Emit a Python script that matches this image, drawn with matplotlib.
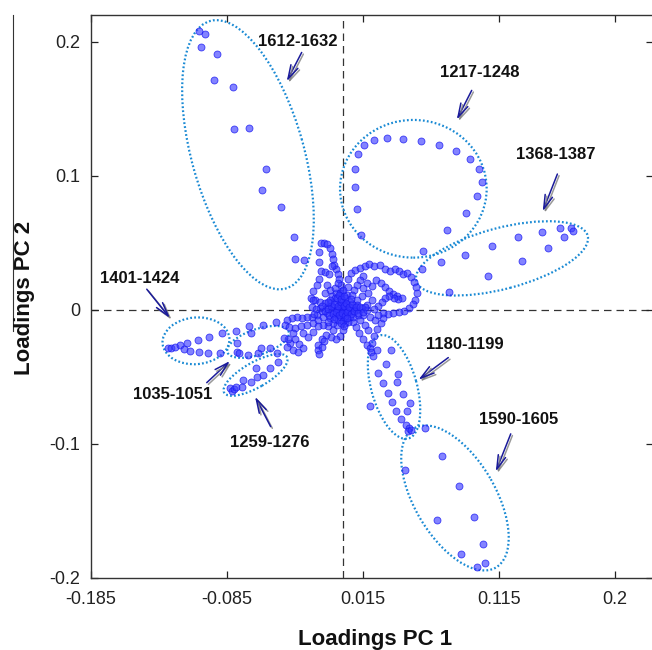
import matplotlib
matplotlib.use("Agg")
import matplotlib.pyplot as plt
from matplotlib.patches import Ellipse
from matplotlib.lines import Line2D
import matplotlib.patheffects as pe

# ---------------- data (PC1, PC2 loadings) ----------------
pc1_1612 = [-0.1056, -0.1012, -0.1039, -0.0921, -0.0948, -0.0808, -0.0796, -0.0686,
            -0.0561, -0.0593, -0.0453, -0.0357, -0.0348, -0.0284]
pc2_1612 = [0.2082, 0.2057, 0.1960, 0.1910, 0.1714, 0.1662, 0.1351, 0.1358,
            0.1050, 0.0896, 0.0766, 0.0540, 0.0378, 0.0371]

pc1_1217 = [0.0157, 0.0231, 0.0324, 0.0444, 0.0574, 0.0709, 0.0832, 0.0939, 0.1001, 0.1023,
            0.0990, 0.0905, 0.0770, 0.0591, 0.0138, 0.0106, 0.0089, 0.0089, 0.0111]
pc2_1217 = [0.1229, 0.1266, 0.1284, 0.1278, 0.1261, 0.1229, 0.1187, 0.1127, 0.1052, 0.0957,
            0.0851, 0.0726, 0.0592, 0.0438, 0.0557, 0.0749, 0.0918, 0.1052, 0.1162]

pc1_1368 = [0.0726, 0.0582, 0.0785, 0.0900, 0.1069, 0.1096, 0.1288, 0.1319, 0.1464,
            0.1508, 0.1599, 0.1630, 0.1679, 0.1696]
pc2_1368 = [0.0356, 0.0306, 0.0134, 0.0410, 0.0254, 0.0478, 0.0540, 0.0366, 0.0584,
            0.0463, 0.0614, 0.0540, 0.0614, 0.0590]

pc1_1401 = [-0.1284, -0.1260, -0.1232, -0.1199, -0.1168, -0.1144, -0.1120, -0.1065,
            -0.1058, -0.0982, -0.0993, -0.0901, -0.0887]
pc2_1401 = [-0.0284, -0.0286, -0.0276, -0.0259, -0.0293, -0.0244, -0.0307, -0.0224,
            -0.0316, -0.0199, -0.0321, -0.0323, -0.0174]

pc1_1035 = [-0.0786, -0.0688, -0.0676, -0.0583, -0.0492, -0.0779, -0.0774, -0.0760,
            -0.0693, -0.0620, -0.0602, -0.0534, -0.0485]
pc2_1035 = [-0.0154, -0.0124, -0.0174, -0.0112, -0.0092, -0.0249, -0.0311, -0.0323,
            -0.0336, -0.0323, -0.0286, -0.0281, -0.0319]

pc1_1259 = [-0.0828, -0.0815, -0.0796, -0.0784, -0.0742, -0.0735, -0.0676, -0.0639,
            -0.0627, -0.0583, -0.0534, -0.0473]
pc2_1259 = [-0.0584, -0.0602, -0.0592, -0.0577, -0.0577, -0.0522, -0.0535, -0.0435,
            -0.0498, -0.0485, -0.0435, -0.0386]

pc1_1180 = [0.0209, 0.0250, 0.0356, 0.0226, 0.0319, 0.0263, 0.0405, 0.0398, 0.0295, 0.0331,
            0.0442, 0.0361, 0.0201, 0.0496, 0.0393, 0.0476, 0.0429, 0.0466, 0.0490, 0.0483,
            0.0500, 0.0606]
pc2_1180 = [-0.0311, -0.0299, -0.0299, -0.0341, -0.0405, -0.0473, -0.0480, -0.0535, -0.0547,
            -0.0622, -0.0629, -0.0684, -0.0714, -0.0692, -0.0754, -0.0754, -0.0816, -0.0858,
            -0.0878, -0.0903, -0.0896, -0.0878]

pc1_1590 = [0.0734, 0.0459, 0.0856, 0.0692, 0.0964, 0.1032, 0.0871, 0.1045, 0.0991]
pc2_1590 = [-0.1090, -0.1194, -0.1313, -0.1567, -0.1542, -0.1744, -0.1818, -0.1886, -0.1918]

pc1_core = [
    -0.0162, -0.0137, -0.0113, -0.0093, -0.0081, -0.0074, -0.0064, -0.0049, -0.0037, -0.0025, -0.0015, -0.0007,
    -0.0176, -0.0172, -0.0162, -0.0176, -0.0191, -0.0216, -0.0235, -0.0203, -0.0167,
    -0.0127, -0.0103, -0.0076, -0.0113, -0.0093, -0.0130, -0.0081, -0.0049,
    0.0029, 0.0037, 0.0042, 0.0059, 0.0091, 0.0127, 0.0164, 0.0196, 0.0230, 0.0275, 0.0311, 0.0348,
    0.0382, 0.0414, 0.0446, 0.0475, 0.0502, 0.0525, 0.0539, 0.0544, 0.0534, 0.0515, 0.0485, 0.0451,
    0.0412, 0.0373, 0.0333, 0.0299,
    0.0152, 0.0181, 0.0213, 0.0245, 0.0279, 0.0311, 0.0343, 0.0373, 0.0402, 0.0434, 0.0409, 0.0377,
    0.0343, 0.0311, 0.0287, 0.0262, 0.0230, 0.0127, 0.0103, 0.0083, 0.0066, 0.0152, 0.0189, 0.0140,
    0.0103, 0.0213, 0.0176,
    0.0054, 0.0074, 0.0098, 0.0123, 0.0152, 0.0181, 0.0201, 0.0213, 0.0230, 0.0255, 0.0279, 0.0294,
    0.0189, 0.0164, 0.0127, 0.0152, 0.0201, 0.0238, 0.0262,
    0.0017, 0.0000, -0.0020, -0.0049, -0.0088, -0.0123, -0.0154, -0.0179, -0.0184, -0.0172, -0.0154,
    -0.0137, -0.0069, -0.0105, -0.0039,
    -0.0191, -0.0228, -0.0265, -0.0301, -0.0338, -0.0375, -0.0412, -0.0424, -0.0392, -0.0350, -0.0309,
    -0.0265, -0.0216, -0.0179, -0.0368, -0.0350, -0.0319, -0.0289, -0.0252, -0.0216, -0.0289, -0.0387,
    -0.0363, -0.0326, -0.0400, -0.0429, -0.0411, -0.0228, -0.0216,
    -0.0118, -0.0093, -0.0069, -0.0044, -0.0020, 0.0005, 0.0029, 0.0054, 0.0078, 0.0103, 0.0066, 0.0029,
    -0.0007, -0.0044, -0.0081, -0.0118, -0.0154, -0.0142, -0.0093, -0.0056, -0.0020, 0.0017, 0.0054,
    -0.0032, 0.0005, 0.0017, -0.0020, -0.0056, -0.0093, -0.0130, -0.0167, 0.0103, 0.0140, 0.0176,
    0.0115, 0.0078, 0.0042, -0.0069, -0.0032, -0.0105, -0.0142, -0.0179, -0.0020, 0.0005, -0.0056,
    -0.0032,
    0.0000, -0.0010, 0.0010, -0.0020, 0.0020, 0.0000, 0.0000, -0.0040, 0.0040,
    -0.0150, -0.0130, -0.0110, -0.0100, -0.0085, -0.0070, -0.0060, -0.0050, -0.0035, -0.0025, -0.0015,
    -0.0005, 0.0008, 0.0015, 0.0025, 0.0035, 0.0045, 0.0060, 0.0070, 0.0085, 0.0095, 0.0110, 0.0125,
    -0.0045, -0.0030, -0.0010, 0.0010, 0.0000, -0.0015, 0.0010, -0.0060, 0.0035, -0.0110, 0.0065,
    -0.0195, -0.0210, 0.0150, 0.0165]
pc2_core = [
    0.0498, 0.0502, 0.0488, 0.0458, 0.0418, 0.0378, 0.0338, 0.0303, 0.0269, 0.0229, 0.0187, 0.0144,
    0.0428, 0.0358, 0.0289, 0.0229, 0.0187, 0.0137, 0.0092, 0.0075, 0.0062,
    0.0279, 0.0269, 0.0328, 0.0187, 0.0149, 0.0124, 0.0100, 0.0124,
    0.0112, 0.0174, 0.0229, 0.0274, 0.0294, 0.0311, 0.0328, 0.0343, 0.0328, 0.0333, 0.0303, 0.0289,
    0.0308, 0.0289, 0.0269, 0.0274, 0.0244, 0.0209, 0.0169, 0.0124, 0.0075, 0.0040, 0.0015, -0.0005,
    -0.0015, -0.0025, -0.0030, -0.0020,
    0.0249, 0.0204, 0.0179, 0.0224, 0.0199, 0.0169, 0.0144, 0.0119, 0.0104, 0.0087, 0.0080, 0.0085,
    0.0100, 0.0087, 0.0062, 0.0030, 0.0010, 0.0224, 0.0187, 0.0149, 0.0112, 0.0162, 0.0124, 0.0100,
    0.0075, 0.0075, 0.0037,
    -0.0050, -0.0087, -0.0129, -0.0174, -0.0219, -0.0261, -0.0286, -0.0244, -0.0194, -0.0144, -0.0100, -0.0062,
    -0.0149, -0.0112, -0.0075, -0.0037, -0.0055, -0.0075, -0.0037,
    -0.0100, -0.0149, -0.0194, -0.0219, -0.0204, -0.0187, -0.0219, -0.0261, -0.0303, -0.0328, -0.0279,
    -0.0236, -0.0149, -0.0124, -0.0112,
    -0.0037, -0.0055, -0.0055, -0.0062, -0.0055, -0.0062, -0.0075, -0.0112, -0.0129, -0.0137, -0.0124,
    -0.0112, -0.0100, -0.0075, -0.0174, -0.0219, -0.0254, -0.0286, -0.0199, -0.0162, -0.0174, -0.0249,
    -0.0299, -0.0311, -0.0219, -0.0211, -0.0274, 0.0025, 0.0075,
    0.0025, 0.0050, 0.0025, 0.0062, 0.0037, 0.0062, 0.0037, 0.0062, 0.0025, 0.0000, -0.0012, -0.0025,
    -0.0012, -0.0025, -0.0012, -0.0025, -0.0012, -0.0050, -0.0062, -0.0055, -0.0055, -0.0062, 0.0000,
    0.0012, 0.0012, 0.0087, 0.0100, 0.0087, 0.0075, 0.0050, 0.0012, 0.0037, 0.0012, 0.0000,
    -0.0037, -0.0055, -0.0087, -0.0100, -0.0075, -0.0087, -0.0112, -0.0124, 0.0124, 0.0149, 0.0162,
    0.0199,
    0.0000, 0.0020, -0.0020, -0.0010, 0.0010, 0.0040, -0.0040, 0.0000, 0.0000,
    0.0030, -0.0010, 0.0010, -0.0040, 0.0030, -0.0030, 0.0045, -0.0015, 0.0030, -0.0035, 0.0055,
    -0.0020, 0.0030, -0.0045, 0.0050, -0.0015, 0.0025, -0.0030, 0.0040, -0.0010, 0.0020, -0.0020, 0.0025,
    0.0085, 0.0110, 0.0080, 0.0105, -0.0080, -0.0100, -0.0120, -0.0070, -0.0060, 0.0060, 0.0080,
    0.0010, -0.0030, -0.0015, 0.0020]

groups = [(pc1_core, pc2_core), (pc1_1612, pc2_1612), (pc1_1217, pc2_1217),
          (pc1_1368, pc2_1368), (pc1_1401, pc2_1401), (pc1_1035, pc2_1035),
          (pc1_1259, pc2_1259), (pc1_1180, pc2_1180), (pc1_1590, pc2_1590)]

x_ticks = [-0.185, -0.085, 0.015, 0.115, 0.2]
x_tick_labels = ["-0.185", "-0.085", "0.015", "0.115", "0.2"]
y_ticks = [-0.2, -0.1, 0, 0.1, 0.2]
y_tick_labels = ["-0.2", "-0.1", "0", "0.1", "0.2"]

# ---------------- annotation geometry ----------------
# (center x, center y, width, height, angle)
ellipse_specs = [
    (-0.0696, 0.1157, 0.2071, 0.0824, 105.5),
    (0.0520, 0.0903, 0.1078, 0.1027, 0),
    (0.1172, 0.0384, 0.1304, 0.0455, 15),
    (-0.1078, -0.0231, 0.0493, 0.0348, 5),
    (-0.0622, -0.0239, 0.0476, 0.0191, 19),
    (-0.0640, -0.0485, 0.0532, 0.0187, 30),
    (0.0378, -0.0575, 0.0797, 0.0336, 105.2),
    (0.0826, -0.1403, 0.1200, 0.0596, 119.9),
]
# (label, text position, arrow tail, arrow head)
label_specs = [
    ("1612-1632", (-0.0328, 0.2000), (-0.0301, 0.1920), (-0.0411, 0.1704)),
    ("1217-1248", (0.1010, 0.1771), (0.0949, 0.1637), (0.0839, 0.1418)),
    ("1368-1387", (0.1569, 0.1162), (0.1579, 0.1013), (0.1471, 0.0734)),
    ("1401-1424", (-0.1490, 0.0237), (-0.1440, 0.0154), (-0.1269, -0.0062)),
    ("1035-1051", (-0.1249, -0.0634), (-0.0999, -0.0543), (-0.0828, -0.0381)),
    ("1259-1276", (-0.0539, -0.0990), (-0.0529, -0.0871), (-0.0644, -0.0647)),
    ("1180-1199", (0.0895, -0.0261), (0.0777, -0.0356), (0.0557, -0.0522)),
    ("1590-1605", (0.1297, -0.0816), (0.1236, -0.0925), (0.1126, -0.1207)),
]

plt.rcParams["font.family"] = ["Liberation Sans", "DejaVu Sans"]

fig = plt.figure(figsize=(6.52, 6.50), dpi=100)
ax = fig.add_axes([91 / 652, 72 / 650, 562 / 652, 563.5 / 650])
ax.set_xlim(-0.185, 0.2282)
ax.set_ylim(-0.2, 0.2203)

ax.axhline(0, color="#333333", lw=0.9, ls=(0, (6, 4)), zorder=1)
ax.axvline(0, color="#333333", lw=0.9, ls=(0, (6, 4)), zorder=1)

for gx, gy in groups:
    ax.scatter(gx, gy, s=25, facecolor=(0.22, 0.22, 1.0, 0.62), edgecolor=(0.1, 0.1, 0.95, 0.8),
               linewidth=0.6, zorder=3)

for cx, cy, w, h, ang in ellipse_specs:
    ax.add_patch(Ellipse((cx, cy), w, h, angle=ang, fill=False, edgecolor="#1a8ad4",
                         lw=1.6, ls=(0, (0.8, 1.0)), zorder=2))

for lab, tpos, tail, head in label_specs:
    ax.text(tpos[0], tpos[1], lab, ha="center", va="center", fontsize=12, fontweight="bold",
            color="#111111", zorder=5)
    ax.annotate("", xy=head, xytext=tail,
                arrowprops=dict(arrowstyle="->,head_length=1.0,head_width=0.28", color="#1a1a9a",
                                lw=1.1, shrinkA=0, shrinkB=0,
                                path_effects=[pe.SimpleLineShadow(offset=(1.2, -1.2),
                                                                  shadow_color="gray", alpha=0.8),
                                              pe.Normal()]),
                zorder=5)

ax.set_xticks(x_ticks)
ax.set_xticklabels(x_tick_labels)
ax.set_yticks(y_ticks)
ax.set_yticklabels(y_tick_labels)
ax.tick_params(direction="in", length=5, width=0.9, top=True, right=True, labelsize=13,
               colors="#222222", pad=9)
ax.tick_params(axis="y", pad=8)
for sp in ax.spines.values():
    sp.set_color("#333333")
    sp.set_linewidth(1.0)

fig.text(375 / 652, 5 / 650, "Loadings PC 1", ha="center", va="baseline", fontsize=16,
         fontweight="bold", color="#111111")
fig.text(25 / 652, 1 - 298 / 650, "Loadings PC 2", ha="center", va="center", rotation=90,
         fontsize=16, fontweight="bold", color="#111111")

fig.add_artist(Line2D([12.7 / 652, 12.7 / 652], [1 - 14.5 / 650, 1 - 331 / 650],
                      transform=fig.transFigure, color="#333333", lw=0.8))

fig.savefig("out.png", dpi=100)
